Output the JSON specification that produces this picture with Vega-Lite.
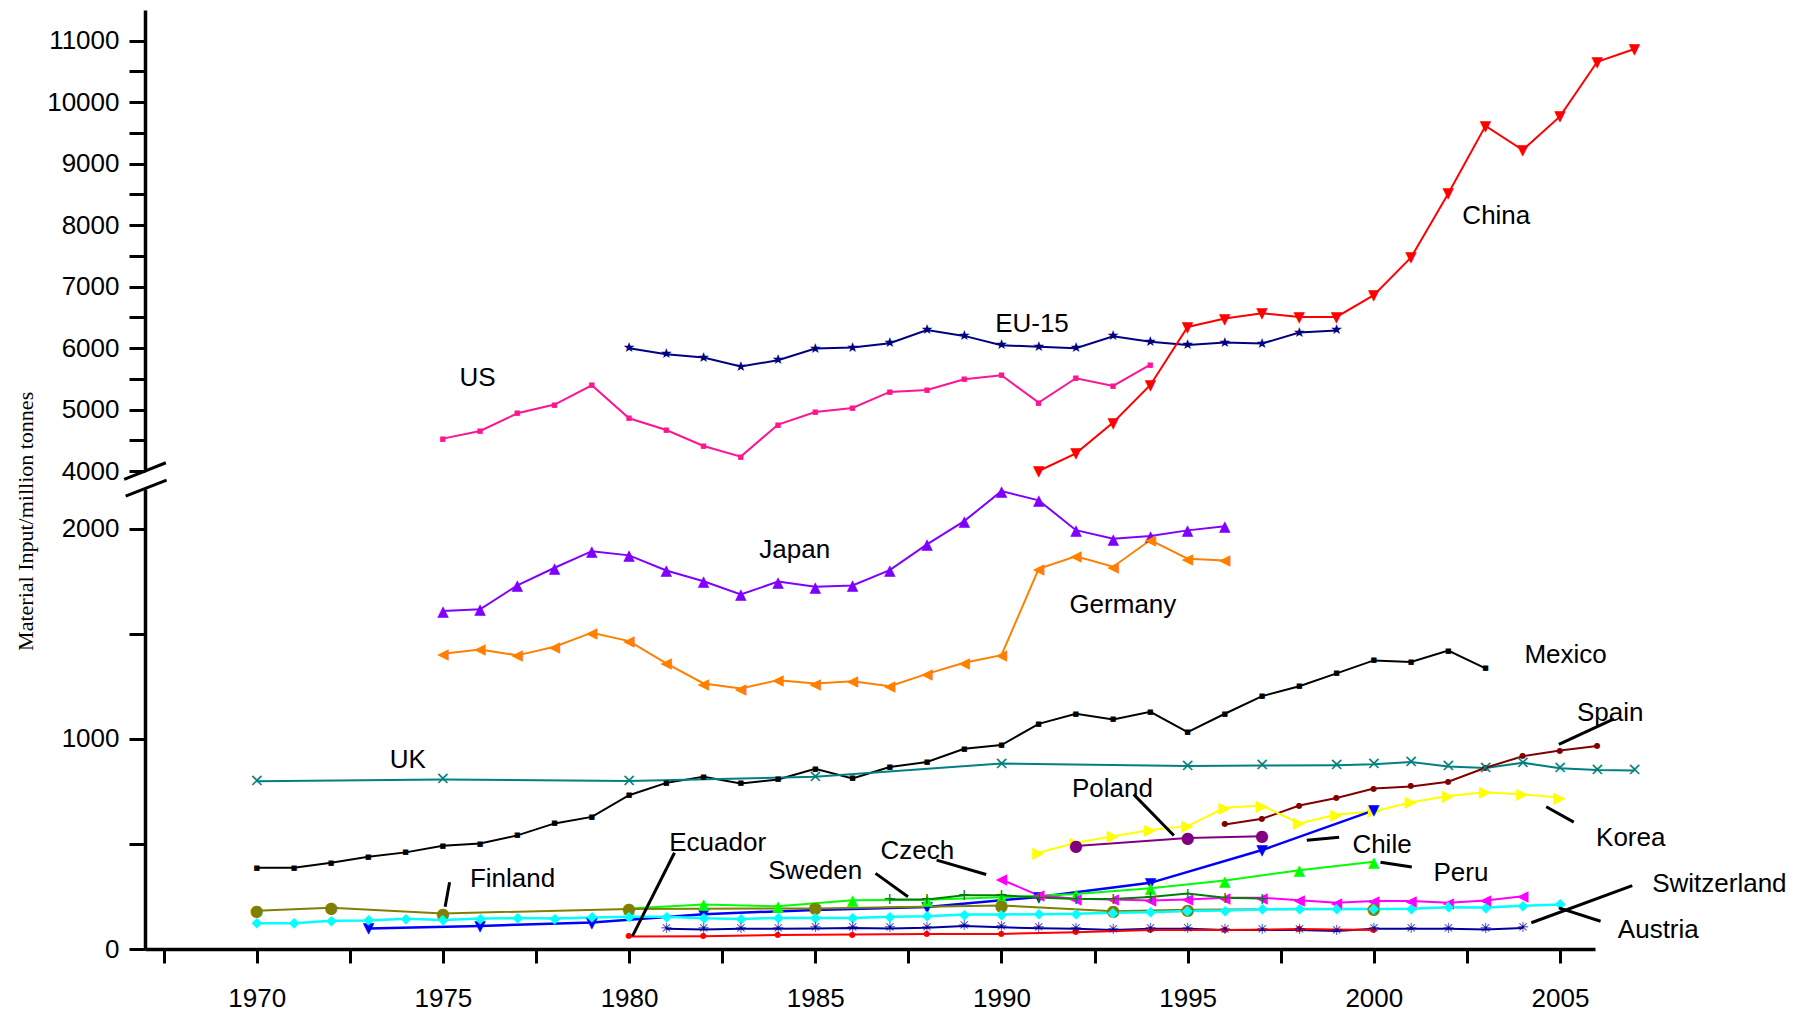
{
  "$schema": "https://vega.github.io/schema/vega-lite/v6.json",
  "background": "white",
  "padding": {"top": 10, "left": 14, "right": 5, "bottom": 2},
  "width": 1450,
  "height": 939,
  "config": {
    "view": {"stroke": null},
    "axis": {"domainColor": "#000", "domainWidth": 3.5, "tickColor": "#000", "tickWidth": 3, "labelFont": "Liberation Sans", "labelFontSize": 26, "labelColor": "#000", "grid": false, "labelOverlap": false, "labelFlush": false}
  },
  "data": {"values": [
      {"series":"US","year":1975,"value":4527},{"series":"US","year":1976,"value":4651},{"series":"US","year":1977,"value":4939},{"series":"US","year":1978,"value":5081},{"series":"US","year":1979,"value":5395},{"series":"US","year":1980,"value":4858},{"series":"US","year":1981,"value":4667},{"series":"US","year":1982,"value":4407},{"series":"US","year":1983,"value":4234},{"series":"US","year":1984,"value":4755},{"series":"US","year":1985,"value":4960},{"series":"US","year":1986,"value":5026},{"series":"US","year":1987,"value":5286},{"series":"US","year":1988,"value":5319},{"series":"US","year":1989,"value":5493},{"series":"US","year":1990,"value":5558},{"series":"US","year":1991,"value":5113},{"series":"US","year":1992,"value":5509},{"series":"US","year":1993,"value":5384},{"series":"US","year":1994,"value":5732},
      {"series":"EU-15","year":1980,"value":5997},{"series":"EU-15","year":1981,"value":5900},{"series":"EU-15","year":1982,"value":5846},{"series":"EU-15","year":1983,"value":5700},{"series":"EU-15","year":1984,"value":5802},{"series":"EU-15","year":1985,"value":5992},{"series":"EU-15","year":1986,"value":6009},{"series":"EU-15","year":1987,"value":6079},{"series":"EU-15","year":1988,"value":6295},{"series":"EU-15","year":1989,"value":6198},{"series":"EU-15","year":1990,"value":6045},{"series":"EU-15","year":1991,"value":6022},{"series":"EU-15","year":1992,"value":5997},{"series":"EU-15","year":1993,"value":6193},{"series":"EU-15","year":1994,"value":6103},{"series":"EU-15","year":1995,"value":6051},{"series":"EU-15","year":1996,"value":6090},{"series":"EU-15","year":1997,"value":6074},{"series":"EU-15","year":1998,"value":6253},{"series":"EU-15","year":1999,"value":6286},
      {"series":"China","year":1991,"value":4000},{"series":"China","year":1992,"value":4288},{"series":"China","year":1993,"value":4788},{"series":"China","year":1994,"value":5400},{"series":"China","year":1995,"value":6344},{"series":"China","year":1996,"value":6481},{"series":"China","year":1997,"value":6567},{"series":"China","year":1998,"value":6507},{"series":"China","year":1999,"value":6507},{"series":"China","year":2000,"value":6860},{"series":"China","year":2001,"value":7474},{"series":"China","year":2002,"value":8516},{"series":"China","year":2003,"value":9616},{"series":"China","year":2004,"value":9221},{"series":"China","year":2005,"value":9769},{"series":"China","year":2006,"value":10658},{"series":"China","year":2007,"value":10865},
      {"series":"Japan","year":1975,"value":1609},{"series":"Japan","year":1976,"value":1617},{"series":"Japan","year":1977,"value":1731},{"series":"Japan","year":1978,"value":1815},{"series":"Japan","year":1979,"value":1894},{"series":"Japan","year":1980,"value":1874},{"series":"Japan","year":1981,"value":1802},{"series":"Japan","year":1982,"value":1751},{"series":"Japan","year":1983,"value":1688},{"series":"Japan","year":1984,"value":1749},{"series":"Japan","year":1985,"value":1725},{"series":"Japan","year":1986,"value":1731},{"series":"Japan","year":1987,"value":1804},{"series":"Japan","year":1988,"value":1926},{"series":"Japan","year":1989,"value":2037},{"series":"Japan","year":1990,"value":2180},{"series":"Japan","year":1991,"value":2136},{"series":"Japan","year":1992,"value":1994},{"series":"Japan","year":1993,"value":1953},{"series":"Japan","year":1994,"value":1966},{"series":"Japan","year":1995,"value":1993},{"series":"Japan","year":1996,"value":2013},
      {"series":"Germany","year":1975,"value":1406},{"series":"Germany","year":1976,"value":1426},{"series":"Germany","year":1977,"value":1398},{"series":"Germany","year":1978,"value":1439},{"series":"Germany","year":1979,"value":1506},{"series":"Germany","year":1980,"value":1466},{"series":"Germany","year":1981,"value":1360},{"series":"Germany","year":1982,"value":1264},{"series":"Germany","year":1983,"value":1240},{"series":"Germany","year":1984,"value":1280},{"series":"Germany","year":1985,"value":1264},{"series":"Germany","year":1986,"value":1275},{"series":"Germany","year":1987,"value":1251},{"series":"Germany","year":1988,"value":1310},{"series":"Germany","year":1989,"value":1363},{"series":"Germany","year":1990,"value":1399},{"series":"Germany","year":1991,"value":1810},{"series":"Germany","year":1992,"value":1870},{"series":"Germany","year":1993,"value":1820},{"series":"Germany","year":1994,"value":1947},{"series":"Germany","year":1995,"value":1858},{"series":"Germany","year":1996,"value":1850},
      {"series":"Mexico","year":1970,"value":387},{"series":"Mexico","year":1971,"value":387},{"series":"Mexico","year":1972,"value":411},{"series":"Mexico","year":1973,"value":439},{"series":"Mexico","year":1974,"value":460},{"series":"Mexico","year":1975,"value":491},{"series":"Mexico","year":1976,"value":502},{"series":"Mexico","year":1977,"value":541},{"series":"Mexico","year":1978,"value":598},{"series":"Mexico","year":1979,"value":629},{"series":"Mexico","year":1980,"value":732},{"series":"Mexico","year":1981,"value":791},{"series":"Mexico","year":1982,"value":820},{"series":"Mexico","year":1983,"value":788},{"series":"Mexico","year":1984,"value":807},{"series":"Mexico","year":1985,"value":858},{"series":"Mexico","year":1986,"value":812},{"series":"Mexico","year":1987,"value":866},{"series":"Mexico","year":1988,"value":890},{"series":"Mexico","year":1989,"value":953},{"series":"Mexico","year":1990,"value":971},{"series":"Mexico","year":1991,"value":1072},{"series":"Mexico","year":1992,"value":1120},{"series":"Mexico","year":1993,"value":1093},{"series":"Mexico","year":1994,"value":1129},{"series":"Mexico","year":1995,"value":1032},{"series":"Mexico","year":1996,"value":1120},{"series":"Mexico","year":1997,"value":1204},{"series":"Mexico","year":1998,"value":1251},{"series":"Mexico","year":1999,"value":1312},{"series":"Mexico","year":2000,"value":1374},{"series":"Mexico","year":2001,"value":1366},{"series":"Mexico","year":2002,"value":1421},{"series":"Mexico","year":2003,"value":1336},
      {"series":"UK","year":1970,"value":799},{"series":"UK","year":1975,"value":807},{"series":"UK","year":1980,"value":800},{"series":"UK","year":1985,"value":820},{"series":"UK","year":1990,"value":883},{"series":"UK","year":1995,"value":871},{"series":"UK","year":1997,"value":874},{"series":"UK","year":1999,"value":875},{"series":"UK","year":2000,"value":879},{"series":"UK","year":2001,"value":890},{"series":"UK","year":2002,"value":869},{"series":"UK","year":2003,"value":862},{"series":"UK","year":2004,"value":887},{"series":"UK","year":2005,"value":860},{"series":"UK","year":2006,"value":852},{"series":"UK","year":2007,"value":850},
      {"series":"Spain","year":1996,"value":593},{"series":"Spain","year":1997,"value":620},{"series":"Spain","year":1998,"value":683},{"series":"Spain","year":1999,"value":719},{"series":"Spain","year":2000,"value":764},{"series":"Spain","year":2001,"value":774},{"series":"Spain","year":2002,"value":796},{"series":"Spain","year":2003,"value":863},{"series":"Spain","year":2004,"value":918},{"series":"Spain","year":2005,"value":945},{"series":"Spain","year":2006,"value":966},
      {"series":"Korea","year":1991,"value":458},{"series":"Korea","year":1992,"value":506},{"series":"Korea","year":1993,"value":537},{"series":"Korea","year":1994,"value":566},{"series":"Korea","year":1995,"value":585},{"series":"Korea","year":1996,"value":672},{"series":"Korea","year":1997,"value":683},{"series":"Korea","year":1998,"value":598},{"series":"Korea","year":1999,"value":640},{"series":"Korea","year":2000,"value":655},{"series":"Korea","year":2001,"value":699},{"series":"Korea","year":2002,"value":728},{"series":"Korea","year":2003,"value":746},{"series":"Korea","year":2004,"value":736},{"series":"Korea","year":2005,"value":721},
      {"series":"Poland","year":1992,"value":490},{"series":"Poland","year":1995,"value":529},{"series":"Poland","year":1997,"value":537},
      {"series":"Chile","year":1973,"value":98},{"series":"Chile","year":1976,"value":110},{"series":"Chile","year":1979,"value":126},{"series":"Chile","year":1982,"value":166},{"series":"Chile","year":1985,"value":186},{"series":"Chile","year":1988,"value":200},{"series":"Chile","year":1991,"value":248},{"series":"Chile","year":1994,"value":315},{"series":"Chile","year":1997,"value":471},{"series":"Chile","year":2000,"value":660},
      {"series":"Peru","year":1980,"value":193},{"series":"Peru","year":1982,"value":212},{"series":"Peru","year":1984,"value":203},{"series":"Peru","year":1986,"value":232},{"series":"Peru","year":1988,"value":234},{"series":"Peru","year":1990,"value":246},{"series":"Peru","year":1992,"value":262},{"series":"Peru","year":1994,"value":289},{"series":"Peru","year":1996,"value":326},{"series":"Peru","year":1998,"value":375},{"series":"Peru","year":2000,"value":415},
      {"series":"Czech","year":1990,"value":331},{"series":"Czech","year":1991,"value":255},{"series":"Czech","year":1992,"value":239},{"series":"Czech","year":1993,"value":236},{"series":"Czech","year":1994,"value":231},{"series":"Czech","year":1995,"value":236},{"series":"Czech","year":1996,"value":244},{"series":"Czech","year":1997,"value":244},{"series":"Czech","year":1998,"value":232},{"series":"Czech","year":1999,"value":220},{"series":"Czech","year":2000,"value":228},{"series":"Czech","year":2001,"value":228},{"series":"Czech","year":2002,"value":220},{"series":"Czech","year":2003,"value":231},{"series":"Czech","year":2004,"value":251},
      {"series":"Sweden","year":1987,"value":236},{"series":"Sweden","year":1988,"value":236},{"series":"Sweden","year":1989,"value":256},{"series":"Sweden","year":1990,"value":256},{"series":"Sweden","year":1991,"value":245},{"series":"Sweden","year":1992,"value":238},{"series":"Sweden","year":1993,"value":238},{"series":"Sweden","year":1994,"value":248},{"series":"Sweden","year":1995,"value":264},{"series":"Sweden","year":1996,"value":244},{"series":"Sweden","year":1997,"value":240},
      {"series":"Finland","year":1970,"value":182},{"series":"Finland","year":1972,"value":196},{"series":"Finland","year":1975,"value":169},{"series":"Finland","year":1980,"value":191},{"series":"Finland","year":1985,"value":193},{"series":"Finland","year":1990,"value":207},{"series":"Finland","year":1993,"value":180},{"series":"Finland","year":1995,"value":187},{"series":"Finland","year":2000,"value":191},
      {"series":"Austria","year":1970,"value":123},{"series":"Austria","year":1971,"value":123},{"series":"Austria","year":1972,"value":134},{"series":"Austria","year":1973,"value":136},{"series":"Austria","year":1974,"value":144},{"series":"Austria","year":1975,"value":138},{"series":"Austria","year":1976,"value":145},{"series":"Austria","year":1977,"value":147},{"series":"Austria","year":1978,"value":145},{"series":"Austria","year":1979,"value":150},{"series":"Austria","year":1980,"value":153},{"series":"Austria","year":1981,"value":153},{"series":"Austria","year":1982,"value":146},{"series":"Austria","year":1983,"value":143},{"series":"Austria","year":1984,"value":148},{"series":"Austria","year":1985,"value":148},{"series":"Austria","year":1986,"value":148},{"series":"Austria","year":1987,"value":153},{"series":"Austria","year":1988,"value":156},{"series":"Austria","year":1989,"value":164},{"series":"Austria","year":1990,"value":164},{"series":"Austria","year":1991,"value":166},{"series":"Austria","year":1992,"value":168},{"series":"Austria","year":1993,"value":172},{"series":"Austria","year":1994,"value":175},{"series":"Austria","year":1995,"value":181},{"series":"Austria","year":1996,"value":183},{"series":"Austria","year":1997,"value":189},{"series":"Austria","year":1998,"value":190},{"series":"Austria","year":1999,"value":190},{"series":"Austria","year":2000,"value":191},{"series":"Austria","year":2001,"value":192},{"series":"Austria","year":2002,"value":199},{"series":"Austria","year":2003,"value":197},{"series":"Austria","year":2004,"value":206},{"series":"Austria","year":2005,"value":212},
      {"series":"Switzerland","year":1981,"value":96},{"series":"Switzerland","year":1982,"value":93},{"series":"Switzerland","year":1983,"value":97},{"series":"Switzerland","year":1984,"value":97},{"series":"Switzerland","year":1985,"value":98},{"series":"Switzerland","year":1986,"value":100},{"series":"Switzerland","year":1987,"value":98},{"series":"Switzerland","year":1988,"value":101},{"series":"Switzerland","year":1989,"value":110},{"series":"Switzerland","year":1990,"value":103},{"series":"Switzerland","year":1991,"value":99},{"series":"Switzerland","year":1992,"value":97},{"series":"Switzerland","year":1993,"value":90},{"series":"Switzerland","year":1994,"value":96},{"series":"Switzerland","year":1995,"value":97},{"series":"Switzerland","year":1996,"value":91},{"series":"Switzerland","year":1997,"value":91},{"series":"Switzerland","year":1998,"value":91},{"series":"Switzerland","year":1999,"value":86},{"series":"Switzerland","year":2000,"value":96},{"series":"Switzerland","year":2001,"value":96},{"series":"Switzerland","year":2002,"value":96},{"series":"Switzerland","year":2003,"value":93},{"series":"Switzerland","year":2004,"value":100},
      {"series":"Ecuador","year":1980,"value":60},{"series":"Ecuador","year":1982,"value":61},{"series":"Ecuador","year":1984,"value":67},{"series":"Ecuador","year":1986,"value":69},{"series":"Ecuador","year":1988,"value":72},{"series":"Ecuador","year":1990,"value":72},{"series":"Ecuador","year":1992,"value":80},{"series":"Ecuador","year":1994,"value":90},{"series":"Ecuador","year":1996,"value":90},{"series":"Ecuador","year":1998,"value":95},{"series":"Ecuador","year":2000,"value":90}
  ]},
  "resolve": {"scale": {"y": "independent"}, "axis": {"y": "independent"}},
  "layer": [
    {
      "encoding": {
        "x": {"field": "year", "type": "quantitative", "scale": {"domain": [1967.0, 2005.94], "nice": false, "zero": false},
          "axis": {"title": null, "orient": "bottom", "values": [1967.5,1970,1972.5,1975,1977.5,1980,1982.5,1985,1987.5,1990,1992.5,1995,1997.5,2000,2002.5,2005], "labelExpr": "datum.value % 5 === 0 ? format(datum.value, 'd') : ''", "tickSize": 14, "labelPadding": 22}},
        "y": {"field": "value", "type": "quantitative", "scale": {"domain": [4000, 11500], "range": [461, 0], "nice": false, "zero": false},
          "axis": {"orient": "left", "title": null, "values": [4000,4500,5000,5500,6000,6500,7000,7500,8000,8500,9000,9500,10000,10500,11000], "labelExpr": "datum.value % 1000 === 0 ? format(datum.value, 'd') : ''", "tickSize": 16, "labelPadding": 10}}
      },
      "layer": [
        {"transform": [{"filter": {"field": "series", "equal": "US"}}], "mark": {"type": "line", "strokeWidth": 2, "color": "#FF1493"}, "encoding": {}},
        {"transform": [{"filter": {"field": "series", "equal": "EU-15"}}], "mark": {"type": "line", "strokeWidth": 2, "color": "#000080"}, "encoding": {}},
        {"transform": [{"filter": {"field": "series", "equal": "China"}}], "mark": {"type": "line", "strokeWidth": 2, "color": "#FF0000"}, "encoding": {}},
        {"transform": [{"filter": {"field": "series", "equal": "EU-15"}}], "mark": {"type": "text", "text": "★", "font": "DejaVu Sans", "fontSize": 14, "align": "center", "baseline": "middle", "color": "#000080"}},
        {"transform": [{"filter": {"field": "series", "equal": "China"}}], "mark": {"type": "text", "text": "▼", "font": "DejaVu Sans", "fontSize": 15, "align": "center", "baseline": "middle", "color": "#FF0000"}},
        {"transform": [{"filter": {"field": "series", "equal": "US"}}], "mark": {"type": "text", "text": "■", "font": "DejaVu Sans", "fontSize": 7, "align": "center", "baseline": "middle", "color": "#FF1493"}},
        {"data": {"values": [
            {"label":"US","year":1975.93,"value":5516},
            {"label":"EU-15","year":1990.82,"value":6393},
            {"label":"China","year":2003.29,"value":8150}]},
          "mark": {"type": "text", "align": "center", "baseline": "middle", "font": "Liberation Sans", "fontSize": 26, "color": "#000"},
          "encoding": {"text": {"field": "label", "type": "nominal"}}}
      ]
    },
    {
      "encoding": {
        "x": {"field": "year", "type": "quantitative", "scale": {"domain": [1967.0, 2005.94], "nice": false, "zero": false},
          "axis": {"title": null, "orient": "bottom", "values": [1967.5,1970,1972.5,1975,1977.5,1980,1982.5,1985,1987.5,1990,1992.5,1995,1997.5,2000,2002.5,2005], "labelExpr": "datum.value % 5 === 0 ? format(datum.value, 'd') : ''", "tickSize": 14, "labelPadding": 22}},
        "y": {"field": "value", "type": "quantitative", "scale": {"domain": [0, 2190], "range": [939, 479], "nice": false, "zero": false},
          "axis": {"orient": "left", "title": null,
            "values": [0,500,1000,1500,2000], "labelExpr": "datum.value % 1000 === 0 ? format(datum.value, 'd') : ''", "tickSize": 16, "labelPadding": 10}}
      },
      "layer": [
        {"transform": [{"filter": {"field": "series", "equal": "Japan"}}], "mark": {"type": "line", "strokeWidth": 2, "color": "#8000FF"}, "encoding": {}},
        {"transform": [{"filter": {"field": "series", "equal": "Germany"}}], "mark": {"type": "line", "strokeWidth": 2, "color": "#FF8000"}, "encoding": {}},
        {"transform": [{"filter": {"field": "series", "equal": "Mexico"}}], "mark": {"type": "line", "strokeWidth": 2, "color": "#000000"}, "encoding": {}},
        {"transform": [{"filter": {"field": "series", "equal": "UK"}}], "mark": {"type": "line", "strokeWidth": 2, "color": "#008080"}, "encoding": {}},
        {"transform": [{"filter": {"field": "series", "equal": "Spain"}}], "mark": {"type": "line", "strokeWidth": 2, "color": "#800000"}, "encoding": {}},
        {"transform": [{"filter": {"field": "series", "equal": "Korea"}}], "mark": {"type": "line", "strokeWidth": 2, "color": "#FFFF00"}, "encoding": {}},
        {"transform": [{"filter": {"field": "series", "equal": "Poland"}}], "mark": {"type": "line", "strokeWidth": 2, "color": "#800080"}, "encoding": {}},
        {"transform": [{"filter": {"field": "series", "equal": "Chile"}}], "mark": {"type": "line", "strokeWidth": 2.5, "color": "#0000FF"}, "encoding": {}},
        {"transform": [{"filter": {"field": "series", "equal": "Peru"}}], "mark": {"type": "line", "strokeWidth": 2, "color": "#00FF00"}, "encoding": {}},
        {"transform": [{"filter": {"field": "series", "equal": "Czech"}}], "mark": {"type": "line", "strokeWidth": 2, "color": "#FF00FF"}, "encoding": {}},
        {"transform": [{"filter": {"field": "series", "equal": "Sweden"}}], "mark": {"type": "line", "strokeWidth": 2, "color": "#008000"}, "encoding": {}},
        {"transform": [{"filter": {"field": "series", "equal": "Finland"}}], "mark": {"type": "line", "strokeWidth": 2, "color": "#808000"}, "encoding": {}},
        {"transform": [{"filter": {"field": "series", "equal": "Austria"}}], "mark": {"type": "line", "strokeWidth": 2.5, "color": "#00FFFF"}, "encoding": {}},
        {"transform": [{"filter": {"field": "series", "equal": "Switzerland"}}], "mark": {"type": "line", "strokeWidth": 2, "color": "#00009C"}, "encoding": {}},
        {"transform": [{"filter": {"field": "series", "equal": "Ecuador"}}], "mark": {"type": "line", "strokeWidth": 2, "color": "#FF0000"}, "encoding": {}},
        {"transform": [{"filter": {"field": "series", "equal": "Japan"}}], "mark": {"type": "text", "text": "▲", "font": "DejaVu Sans", "fontSize": 15, "align": "center", "baseline": "middle", "color": "#8000FF"}},
        {"transform": [{"filter": {"field": "series", "equal": "Germany"}}], "mark": {"type": "text", "text": "◀", "font": "DejaVu Sans", "fontSize": 15, "align": "center", "baseline": "middle", "color": "#FF8000"}},
        {"transform": [{"filter": {"field": "series", "equal": "Korea"}}], "mark": {"type": "text", "text": "▶", "font": "DejaVu Sans", "fontSize": 16, "align": "center", "baseline": "middle", "color": "#FFFF00"}},
        {"transform": [{"filter": {"field": "series", "equal": "Poland"}}], "mark": {"type": "text", "text": "●", "font": "DejaVu Sans", "fontSize": 16, "align": "center", "baseline": "middle", "color": "#800080"}},
        {"transform": [{"filter": {"field": "series", "equal": "Chile"}}], "mark": {"type": "text", "text": "▼", "font": "DejaVu Sans", "fontSize": 15, "align": "center", "baseline": "middle", "color": "#0000FF"}},
        {"transform": [{"filter": {"field": "series", "equal": "Peru"}}], "mark": {"type": "text", "text": "▲", "font": "DejaVu Sans", "fontSize": 15, "align": "center", "baseline": "middle", "color": "#00FF00"}},
        {"transform": [{"filter": {"field": "series", "equal": "Czech"}}], "mark": {"type": "text", "text": "◀", "font": "DejaVu Sans", "fontSize": 15, "align": "center", "baseline": "middle", "color": "#FF00FF"}},
        {"transform": [{"filter": {"field": "series", "equal": "Finland"}}], "mark": {"type": "text", "text": "●", "font": "DejaVu Sans", "fontSize": 16, "align": "center", "baseline": "middle", "color": "#808000"}},
        {"transform": [{"filter": {"field": "series", "equal": "Austria"}}], "mark": {"type": "text", "text": "◆", "font": "DejaVu Sans", "fontSize": 14, "align": "center", "baseline": "middle", "color": "#00FFFF"}},
        {"transform": [{"filter": {"field": "series", "equal": "Mexico"}}], "mark": {"type": "text", "text": "■", "font": "DejaVu Sans", "fontSize": 7, "align": "center", "baseline": "middle", "color": "#000000"}},
        {"transform": [{"filter": {"field": "series", "equal": "Spain"}}], "mark": {"type": "text", "text": "●", "font": "DejaVu Sans", "fontSize": 8, "align": "center", "baseline": "middle", "color": "#800000"}},
        {"transform": [{"filter": {"field": "series", "equal": "Ecuador"}}], "mark": {"type": "text", "text": "●", "font": "DejaVu Sans", "fontSize": 8, "align": "center", "baseline": "middle", "color": "#FF0000"}},
        {"transform": [{"filter": {"field": "series", "equal": "UK"}}], "mark": {"type": "text", "text": "×", "font": "DejaVu Sans", "fontSize": 18, "align": "center", "baseline": "middle", "color": "#008080"}},
        {"transform": [{"filter": {"field": "series", "equal": "Sweden"}}], "mark": {"type": "text", "text": "+", "font": "DejaVu Sans", "fontSize": 16, "align": "center", "baseline": "middle", "color": "#008000"}},
        {"transform": [{"filter": {"field": "series", "equal": "Switzerland"}}], "mark": {"type": "text", "text": "✳", "font": "DejaVu Sans", "fontSize": 14, "align": "center", "baseline": "middle", "color": "#00009C"}},
        {"data": {"values": [
            {"label":"Japan","year":1984.45,"value":1899},
            {"label":"Germany","year":1993.26,"value":1637},
            {"label":"Mexico","year":2005.15,"value":1402},
            {"label":"Spain","year":2006.35,"value":1123},
            {"label":"UK","year":1974.06,"value":899},
            {"label":"Poland","year":1992.98,"value":763},
            {"label":"Korea","year":2006.9,"value":528},
            {"label":"Ecuador","year":1982.38,"value":506},
            {"label":"Chile","year":2000.22,"value":495},
            {"label":"Czech","year":1987.74,"value":468},
            {"label":"Sweden","year":1985.0,"value":369},
            {"label":"Peru","year":2002.34,"value":364},
            {"label":"Finland","year":1976.87,"value":331},
            {"label":"Switzerland","year":2009.28,"value":309},
            {"label":"Austria","year":2007.64,"value":90}]},
          "mark": {"type": "text", "align": "center", "baseline": "middle", "font": "Liberation Sans", "fontSize": 26, "color": "#000"},
          "encoding": {"text": {"field": "label", "type": "nominal"}}},
        {"data": {"values": [{"label":"Material Input/million tonnes","year":1963.8,"value":2036}]},
          "mark": {"type": "text", "align": "center", "baseline": "middle", "angle": 270, "font": "Liberation Serif", "fontSize": 22, "color": "#000"},
          "encoding": {"text": {"field": "label", "type": "nominal"}}},
        {"data": {"values": [
            {"label":"Finland","year":1975.18,"value":318,"year2":1975.06,"value2":201},
            {"label":"Ecuador","year":1981.22,"value":458,"year2":1980.09,"value2":61},
            {"label":"Sweden","year":1986.62,"value":360,"year2":1987.49,"value2":249},
            {"label":"Czech","year":1988.26,"value":423,"year2":1989.59,"value2":355},
            {"label":"Poland","year":1993.55,"value":736,"year2":1994.63,"value2":540},
            {"label":"Chile","year":1998.2,"value":518,"year2":1999.07,"value2":532},
            {"label":"Peru","year":2000.18,"value":413,"year2":2001.02,"value2":390},
            {"label":"Korea","year":2004.63,"value":677,"year2":2005.37,"value2":604},
            {"label":"Spain","year":2004.97,"value":974,"year2":2006.45,"value2":1096},
            {"label":"Switzerland","year":2004.23,"value":125,"year2":2006.94,"value2":302},
            {"label":"Austria","year":2004.97,"value":196,"year2":2006.09,"value2":132},
            {"label":"break-upper","year":1966.44,"value":2236,"year2":1967.56,"value2":2315},
            {"label":"break-lower","year":1966.48,"value":2156,"year2":1967.58,"value2":2232}]},
          "mark": {"type": "rule", "strokeWidth": 3, "color": "#000"},
          "encoding": {"x2": {"field": "year2"}, "y2": {"field": "value2"}}}
      ]
    }
  ]
}
